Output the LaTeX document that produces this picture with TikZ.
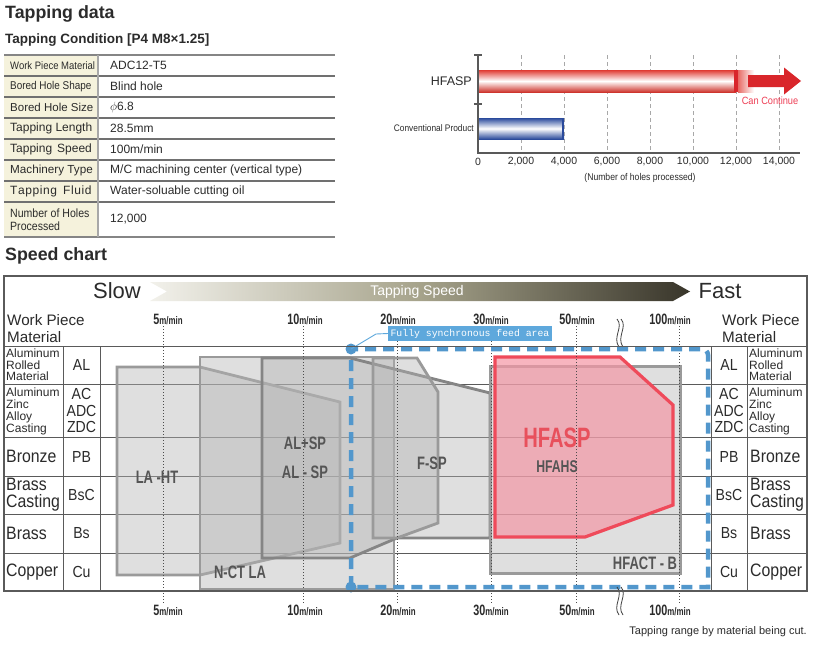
\documentclass[tikz,border=0pt]{standalone}
\usepackage{fontspec}
\setmainfont{Liberation Sans}
\newfontfamily\condf[FakeStretch=0.72]{Liberation Sans}
\newfontfamily\narf[FakeStretch=0.88]{Liberation Sans}
\newfontfamily\monof{Liberation Mono}
\newcommand\myfs[2]{\fontsize{#1}{#2}\selectfont}
\definecolor{txt}{HTML}{2B2B2B}
\definecolor{beige}{HTML}{F5F2DC}
\definecolor{tline}{HTML}{707070}
\definecolor{grid}{HTML}{A8A8A8}
\definecolor{barred}{HTML}{E03A32}
\definecolor{arrred}{HTML}{D9262B}
\definecolor{canred}{HTML}{EE3F55}
\definecolor{barblue}{HTML}{2A4A9C}
\definecolor{hs1}{HTML}{F2F1EB}
\definecolor{hs2}{HTML}{A6A38B}
\definecolor{hs3}{HTML}{38352A}
\definecolor{chline}{HTML}{5A5A5A}
\definecolor{shfill}{HTML}{B4B4B4}
\definecolor{shdraw}{HTML}{9A9A9A}
\definecolor{shdark}{HTML}{858585}
\definecolor{shtxt}{HTML}{555555}
\definecolor{pinkfill}{HTML}{F497A5}
\definecolor{pinkdraw}{HTML}{EF4A5A}
\definecolor{hfred}{HTML}{E8505C}
\definecolor{syncblue}{HTML}{5297CC}
\definecolor{labblue}{HTML}{5EA8DC}
\pgfdeclarehorizontalshading{speedsh}{100bp}{color(0bp)=(hs1); color(25bp)=(hs1); color(50bp)=(hs2); color(75bp)=(hs3); color(100bp)=(hs3)}
\begin{document}
\begin{tikzpicture}[x=1pt,y=-1pt,
  every node/.style={inner sep=0pt, text=txt},
  tlab/.style={anchor=west, font=\myfs{11.5}{13}},
  vlab/.style={anchor=west, font=\myfs{12}{13}},
  shp/.style={fill=shfill, fill opacity=0.42, draw=shdraw, line width=2.8pt, line join=miter},
  shlab/.style={text=shtxt, font=\condf\bfseries\myfs{18}{20}},
  spd/.style={font=\condf\bfseries\myfs{15}{15}},
  rowline/.style={draw=chline, line width=0.9pt},
  spdline/.style={draw=black!70, line width=0.7pt, dash pattern=on 1pt off 2pt},
  syncline/.style={draw=syncblue, line width=4.5pt, dash pattern=on 11pt off 7pt},
  gridl/.style={draw=grid, line width=0.8pt, dash pattern=on 4pt off 3pt},
  matl/.style={font=\myfs{12}{11.5}, align=left, anchor=west},
  matb/.style={font=\narf\myfs{18}{17}, align=left, anchor=west},
  sym/.style={font=\narf\myfs{16}{16.5}, align=center},
  ticklab/.style={font=\myfs{10.5}{12}}
]
\useasboundingbox (0,0) rectangle (824,648);
\fill[white] (0,0) rectangle (824,648);

% ---------------- titles ----------------
\node[anchor=west, font=\bfseries\myfs{17.8}{20}] (ttl) at (5,14) {Tapping data};
\node[anchor=west, font=\bfseries\myfs{13.5}{15}] (sttl) at (5,40.5) {Tapping Condition [P4 M8×1.25]};

% ---------------- table ----------------
\fill[beige] (4,55) rectangle (98,237);
\foreach \y in {76,97,118,139,160,181,202}
  \draw[tline, line width=1.3pt] (4,\y) -- (335,\y);
\draw[tline!85, line width=2.2pt] (4,55) -- (335,55);
\draw[tline!85, line width=2.2pt] (4,237) -- (335,237);
\draw[grid, line width=1.2pt] (98,55) -- (98,237);

\node[tlab, font=\narf\myfs{10.8}{12}] (k1) at (10,65.5) {Work Piece Material};
\node[tlab, font=\narf\myfs{11.3}{12}] (k2) at (10,86.5) {Bored Hole Shape};
\node[tlab] (k3) at (10,107.5) {Bored Hole Size};
\node[tlab, font=\myfs{12}{13}] (k4) at (10,128.5) {Tapping Length};
\node[tlab, font=\myfs{12}{13}] (k5) at (10,149.5) {Tapping\hspace{5pt}Speed};
\node[tlab, font=\myfs{11.7}{13}] (k6) at (10,170.5) {Machinery Type};
\node[tlab, font=\myfs{12}{13}] (k7) at (10,191.5) {T\kern0.6pt a\kern0.6pt p\kern0.6pt p\kern0.6pt i\kern0.6pt n\kern0.6pt g\hspace{6pt}F\kern0.6pt l\kern0.6pt u\kern0.6pt i\kern0.6pt d};
\node[tlab, align=left, font=\narf\myfs{12}{13.5}] (k8) at (10,219.5) {Number of Holes\\Processed};

\node[vlab] (v1) at (110,65.5) {ADC12-T5};
\node[vlab] (v2) at (110,86.5) {Blind hole};
\node[vlab] (v3) at (110,107.5) {$\phi$6.8};
\node[vlab] (v4) at (110,128.5) {28.5mm};
\node[vlab] (v5) at (110,149.5) {100m/min};
\node[vlab] (v6) at (110,170.5) {M/C machining center (vertical type)};
\node[vlab] (v7) at (110,191.5) {Water-soluable cutting oil};
\node[vlab] (v8) at (110,219.5) {12,000};

% ---------------- bar chart ----------------
\foreach \i in {1,...,7}
  \draw[gridl] ({478+43*\i},55) -- ({478+43*\i},153);
\shade[top color=barred, bottom color=barred!92!black, middle color=white] (478,70) rectangle (736,92);
\shade[left color=barred!75, right color=white] (738,70) rectangle (754,92);
\fill[arrred] (734,70) rectangle (738,92);
\fill[arrred] (748,75) -- (784,75) -- (784,67.5) -- (801,81) -- (784,94.5) -- (784,87) -- (748,87) -- cycle;
\shade[top color=barblue, bottom color=barblue, middle color=white] (478,118) rectangle (564,139);
\draw[barblue, line width=1.6pt] (563,118.5) -- (563,138.5);
\draw[black!65, line width=1.5pt] (478,55) -- (478,153) -- (800,153);
\draw[black!65, line width=1.2pt] (474,55) -- (482,55);
\draw[black!65, line width=1.2pt] (474,104) -- (482,104);

\node[anchor=east, font=\myfs{12.5}{14}] (lhf) at (472,81) {HFASP};
\node[anchor=east, font=\narf\myfs{9.5}{11}] (lcv) at (474,128) {Conventional Product};
\node[text=canred, font=\narf\myfs{10.5}{12}] (lcan) at (770,101) {Can Continue};
\foreach \i/\lab in {0/0,1/{2,000},2/{4,000},3/{6,000},4/{8,000},5/{10,000},6/{12,000},7/{14,000}}
  \node[ticklab] (tk\i) at ({478+43*\i},161.5) {\lab};
\node[font=\narf\myfs{9.8}{11}] (lnum) at (640,178) {(Number of holes processed)};

% ---------------- speed chart ----------------
\node[anchor=west, font=\bfseries\myfs{17.8}{20}] (sttl2) at (5,256) {Speed chart};

% header arrow
\shade[shading=speedsh] (150,282) -- (167,291.5) -- (150,301) -- (673,301) -- (690,291.5) -- (673,282) -- cycle;
\node[text=white, font=\myfs{14}{16}] (tsp) at (417,291.5) {Tapping Speed};
\node[font=\myfs{22}{24}] (slow) at (117,291) {Slow};
\node[font=\myfs{22}{24}] (fast) at (720,291) {Fast};

% row lines
\foreach \y in {346,384,437,476,514,553}
  \draw[rowline] (4,\y) -- (807,\y);
\foreach \x in {63,100,711,747}
  \draw[rowline] (\x,346) -- (\x,591);

% shapes
\draw[shp] (117,367) -- (200,367) -- (340,402) -- (340,543) -- (200,575) -- (117,575) -- cycle;
\draw[shp] (200,357) rectangle (394,589);
\draw[shp, draw=shdark] (262,358) -- (350,358) -- (490,393) -- (490,538) -- (397,538) -- (350,558) -- (262,558) -- cycle;
\draw[shp] (373,358) -- (417,358) -- (438,392) -- (438,523) -- (397,538) -- (373,538) -- cycle;
\draw[shp, line width=3pt] (490,366) rectangle (680,573);
\draw[fill=pinkfill, fill opacity=0.7, draw=pinkdraw, line width=3.2pt, line join=miter]
  (495,357) -- (620,357) -- (673,405) -- (673,505) -- (585,537) -- (495,537) -- cycle;

% speed lines
\foreach \x in {163,303,397,491,576,679}
  \draw[spdline] (\x,326) -- (\x,603);

% shape labels
\node[shlab] (lla) at (157,477) {LA -HT};
\node[shlab] (lal1) at (305,443) {AL+SP};
\node[shlab] (lal2) at (305,472) {AL - SP};
\node[shlab] (lfsp) at (432,463) {F-SP};
\node[shlab] (lnct) at (240,572) {N-CT LA};
\node[shlab, text=hfred, font=\condf\bfseries\myfs{28}{30}] (lhfasp) at (557,438) {HFASP};
\node[shlab, font=\condf\bfseries\myfs{17}{19}] (lhfahs) at (557,467) {HFAHS};
\node[shlab] (lhfact) at (645,563) {HFACT - B};

% synchronous area
\draw[syncline] (351,587) -- (351,349) [rounded corners=6pt] -- (708,349) [sharp corners] -- (708,587) -- cycle;
\coordinate (dotA) at (351,349);
\coordinate (dotB) at (351,587);
\coordinate (bend) at (376,334);
\fill[syncblue] (dotA) circle (5.5);
\fill[syncblue] (dotB) circle (5.5);
\node[fill=labblue, text=white, minimum width=164pt, minimum height=15pt, font=\monof\myfs{9.8}{10}] (sync) at (470,333.5) {Fully synchronous feed area};
\draw[labblue, line width=0.9pt] (dotA) -- (bend) -- (sync.west);

% break marks
\draw[black!75, line width=0.8pt] (617,319) .. controls (624,327) and (612,337) .. (619,347);
\draw[black!75, line width=0.8pt] (621,319) .. controls (628,327) and (616,337) .. (623,347);
\draw[black!75, line width=0.8pt] (617,587) .. controls (624,595) and (612,606) .. (619,615);
\draw[black!75, line width=0.8pt] (621,587) .. controls (628,595) and (616,606) .. (623,615);

% speed labels
\foreach \n/\xx [count=\c] in {5/168,10/305,20/398,30/491,50/577,100/670} {
  \node[spd] (su\c) at (\xx,319) {\n{\myfs{11}{12}m/min}};
  \node[spd] (sd\c) at (\xx,610) {\n{\myfs{11}{12}m/min}};
}

% frame
\draw[chline, line width=1.2pt] (4,276) rectangle (807,591);
\draw[rowline] (4,346) -- (807,346);

% left header + materials
\node[anchor=west, align=left, font=\myfs{15.2}{17}] (wpl) at (7,328.5) {Work Piece\\Material};
\node[anchor=west, align=left, font=\myfs{15.2}{17}] (wpr) at (722,328.5) {Work Piece\\Material};

\node[matl] (m1) at (6,365) {Aluminum\\Rolled\\Material};
\node[matl, font=\myfs{12}{12}] (m2) at (6,411) {Aluminum\\Zinc\\Alloy\\Casting};
\node[matb] (m3) at (6,456.5) {Bronze};
\node[matb] (m4) at (6,495) {Brass\\Casting};
\node[matb] (m5) at (6,533.5) {Brass};
\node[matb] (m6) at (6,572) {Copper};

\node[sym] (s1) at (81.5,365) {AL};
\node[sym] (s2) at (81.5,410.5) {AC\\ADC\\ZDC};
\node[sym] (s3) at (81.5,456.5) {PB};
\node[sym] (s4) at (81.5,495) {BsC};
\node[sym] (s5) at (81.5,533.5) {Bs};
\node[sym] (s6) at (81.5,572) {Cu};

\node[sym] (r1) at (729,365) {AL};
\node[sym] (r2) at (729,410.5) {AC\\ADC\\ZDC};
\node[sym] (r3) at (729,456.5) {PB};
\node[sym] (r4) at (729,495) {BsC};
\node[sym] (r5) at (729,533.5) {Bs};
\node[sym] (r6) at (729,572) {Cu};

\node[matl] (n1) at (749,365) {Aluminum\\Rolled\\Material};
\node[matl, font=\myfs{12}{12}] (n2) at (749,411) {Aluminum\\Zinc\\Alloy\\Casting};
\node[matb] (n3) at (750,456.5) {Bronze};
\node[matb] (n4) at (750,495) {Brass\\Casting};
\node[matb] (n5) at (750,533.5) {Brass};
\node[matb] (n6) at (750,572) {Copper};

\node[anchor=east, font=\myfs{11}{13}] (note) at (807,632) {Tapping range by material being cut.};
\end{tikzpicture}
\end{document}
